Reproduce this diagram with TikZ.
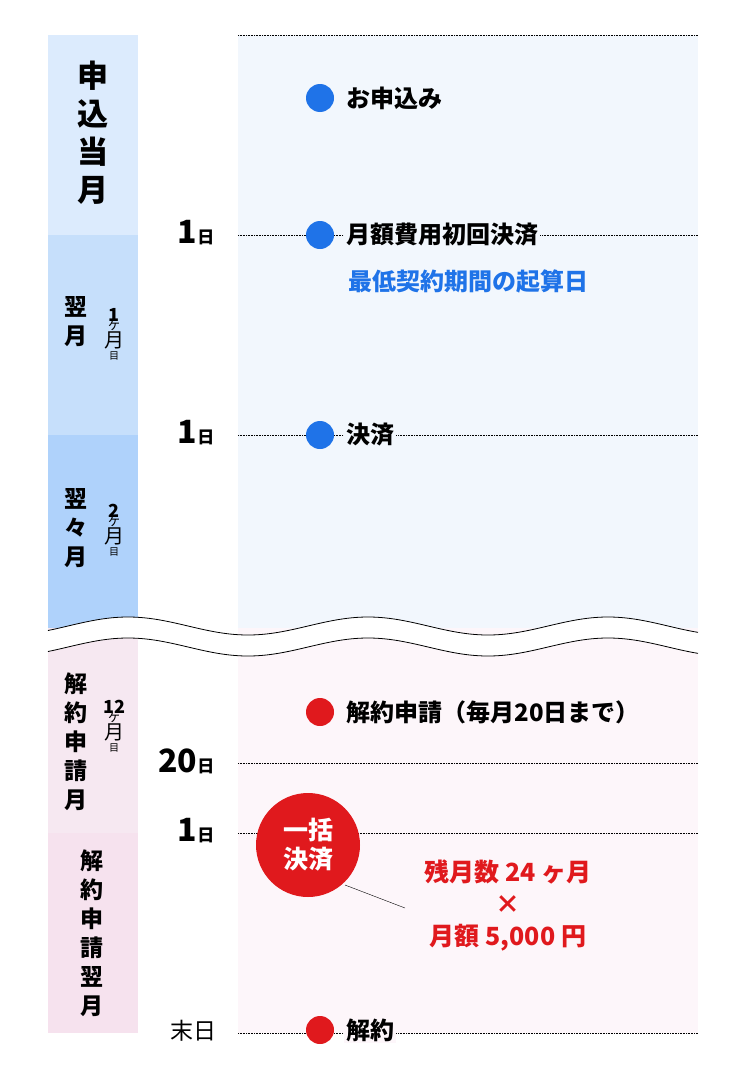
\documentclass[tikz,border=0pt]{standalone}
\usepackage{fontspec}
\setmainfont{Noto Sans CJK JP}
\usetikzlibrary{positioning}
\definecolor{dotblue}{HTML}{1F73E8}
\definecolor{dotred}{HTML}{E0191D}
\definecolor{skyA}{HTML}{DCEBFD}
\definecolor{skyB}{HTML}{C6DFFB}
\definecolor{skyC}{HTML}{AFD2FB}
\definecolor{skyP}{HTML}{F2F7FD}
\definecolor{pinkA}{HTML}{F6E8F1}
\definecolor{pinkB}{HTML}{F6E2EE}
\definecolor{pinkP}{HTML}{FDF6FA}
\tikzset{
  dot/.style={circle, fill=#1, minimum size=28pt, inner sep=0pt},
  mark line/.style={densely dotted, semithick, black},
  lab/.style={anchor=west, font=\fontsize{24}{28}\selectfont\bfseries, fill=#1, inner sep=2pt},
  lab/.default=skyP,
  tall/.style={align=center, font=\fontsize{23}{29}\selectfont\bfseries},
  day/.style={anchor=east, font=\bfseries},
}
\newcommand{\dayl}[1]{{\fontsize{32}{32}\selectfont #1}{\fontsize{17}{17}\selectfont 日}}
\newcommand{\nth}[1]{\bfseries\fontsize{18}{22}\selectfont #1\\[-4pt]{\fontsize{14}{14}\selectfont ヶ}\\\fontsize{20}{23}\selectfont 月\\目}
\begin{document}
\begin{tikzpicture}[x=1pt, y=-1pt]
\useasboundingbox (0,0) rectangle (750,1084);
% panels
\fill[skyA] (48,35) rectangle (138,235);
\fill[skyB] (48,235) rectangle (138,435);
\fill[skyC] (48,435) rectangle (138,640);
\fill[pinkA] (48,628) rectangle (138,833);
\fill[pinkB] (48,833) rectangle (138,1033);
\fill[skyP] (238,35) rectangle (698,640);
\fill[pinkP] (238,628) rectangle (698,1033);
% break
\fill[white, domain=48:698, samples=120, smooth]
  plot (\x, {626-9*cos(1.5*(\x-128))}) --
  plot[domain=698:48] (\x, {647-9*cos(1.5*(\x-128))}) -- cycle;
\draw[thick, domain=48:698, samples=120, smooth] plot (\x, {626-9*cos(1.5*(\x-128))});
\draw[thick, domain=48:698, samples=120, smooth] plot (\x, {647-9*cos(1.5*(\x-128))});
% left column
\node[align=center, font=\fontsize{31}{38}\selectfont\bfseries] (m0) at (93,133) {申\\込\\当\\月};
\node[tall] (m1) at (76,322) {翌\\月};
\node[align=center] (m1n) at (114,334) {\nth{1}};
\node[tall] (m2) at (76,528) {翌\\々\\月};
\node[align=center] (m2n) at (114,530) {\nth{2}};
\node[tall] (m3) at (76,742) {解\\約\\申\\請\\月};
\node[align=center] (m3n) at (114,726) {\nth{12}};
\node[tall] (m4) at (92,933) {解\\約\\申\\請\\翌\\月};
% day labels and lines
\node[day] (d1) at (218,233) {\dayl{1}};
\node[day] (d2) at (218,433) {\dayl{1}};
\node[day] (d3) at (218,761) {\dayl{20}};
\node[day] (d4) at (218,831) {\dayl{1}};
\node[anchor=east, font=\fontsize{23}{23}\selectfont] (d5) at (220,1031) {末日};
\coordinate (t0) at (238,35);  \coordinate (t0e) at (698,35);
\draw[mark line] (t0) -- (t0e);
\draw[mark line] (d1.east) ++(20,2) -- (698,235);
\draw[mark line] (d2.east) ++(20,2) -- (698,435);
\draw[mark line] (d3.east) ++(20,2) -- (698,763);
\draw[mark line] (d4.east) ++(20,2) -- (698,833);
\draw[mark line] (d5.east) ++(18,2) -- (698,1033);
% events
\node[dot=dotblue] (e1) at (320,98) {};
\node[lab, right=10pt of e1] {お申込み};
\node[dot=dotblue] (e2) at (320,235) {};
\node[lab, right=10pt of e2] (e2t) {月額費用初回決済};
\node[anchor=west, font=\fontsize{24}{28}\selectfont\bfseries, text=dotblue, inner sep=2pt] at (346,281) {最低契約期間の起算日};
\node[dot=dotblue] (e3) at (320,435) {};
\node[lab, right=10pt of e3] {決済};
\node[dot=dotred] (e4) at (320,712) {};
\node[lab=pinkP, right=10pt of e4] {解約申請（毎月\textbf{20}日まで）};
\node[dot=dotred] (e5) at (320,1030) {};
\node[lab=pinkP, right=10pt of e5] {解約};
% lump sum
\node[circle, fill=dotred, minimum size=104pt, inner sep=0pt, align=center, text=white,
  font=\fontsize{25}{29}\selectfont\bfseries] (lump) at (308,845) {一括\\決済};
\node[align=center, text=dotred, font=\fontsize{25}{32}\selectfont\bfseries] (calc) at (508,905)
  {残月数 24 ヶ月\\×\\月額 5,000 円};
\coordinate (pt) at (405,908);
\draw[thin] (345,885) -- (pt);
\end{tikzpicture}
\end{document}
